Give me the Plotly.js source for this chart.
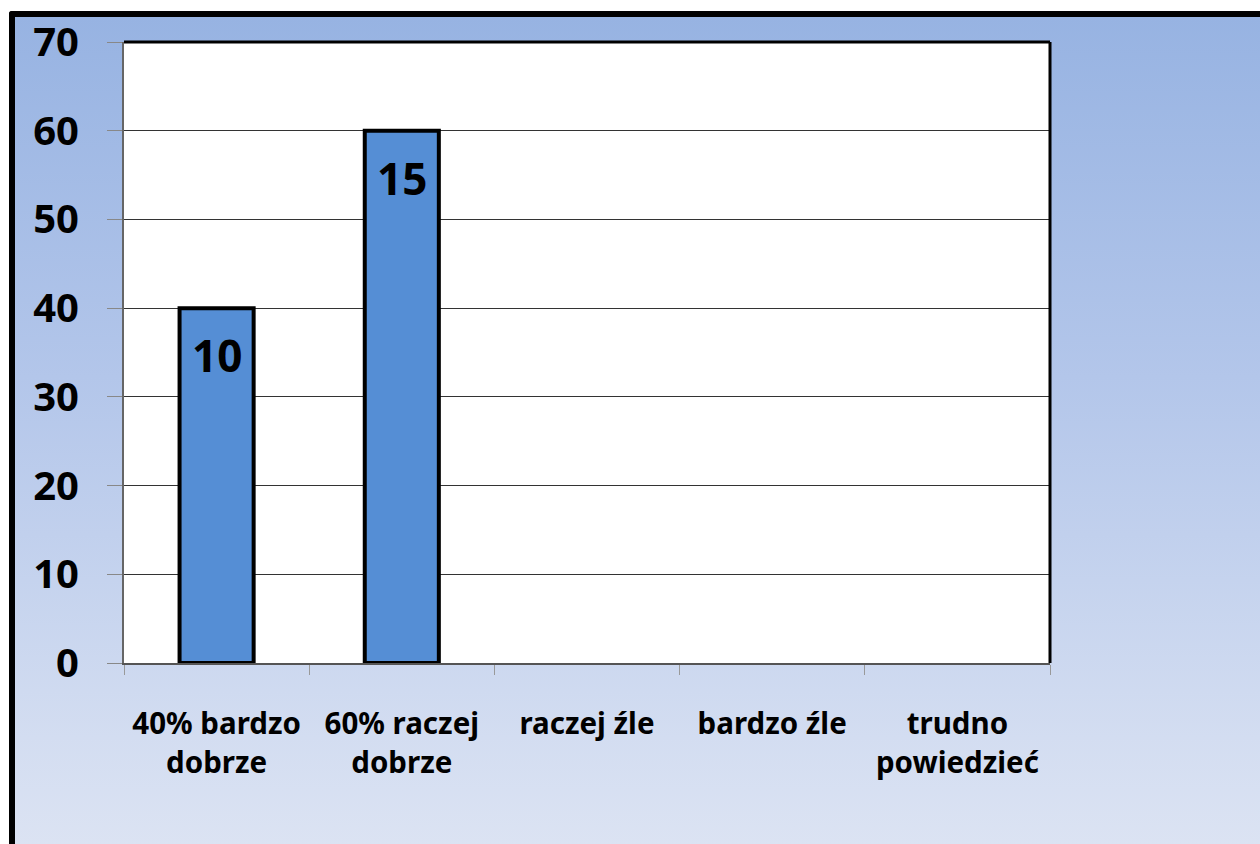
<!DOCTYPE html>
<html>
<head>
<meta charset="utf-8">
<script src="https://cdn.plot.ly/plotly-3.0.1.min.js"></script>
<style>
    html, body { margin: 0; padding: 0; background: #fff; }
    #wrap { position: relative; width: 1260px; height: 844px; overflow: hidden; }
    #frame {
        position: absolute; left: 9px; top: 11px; width: 1300px; height: 900px;
        border-left: 6px solid #000; border-top: 6px solid #000;
        border-top-left-radius: 3px;
        background: linear-gradient(180deg, #97b3e2 0%, #b3c6ea 40%, #d3ddf1 80%, #e1e7f4 100%);
    }
    #chart { position: absolute; left: 0; top: 0; width: 1260px; height: 844px; }
</style>
</head>
<body>
<div id="wrap">
    <div id="frame"></div>
    <div id="chart"></div>
</div>
<script>
    // 데이터
    const categories = ["40% bardzo<br>dobrze", "60% raczej<br>dobrze", "raczej źle", "bardzo źle", "trudno<br>powiedzieć"];
    const values = [40, 60, null, null, null];
    const barLabels = ["10", "15", "", "", ""];
    const yTicks = [0, 10, 20, 30, 40, 50, 60, 70];

    const fontFamily = "'Noto Sans', 'Open Sans', sans-serif";

    // 막대 안쪽 숫자 라벨
    const annotations = [];
    categories.forEach((c, i) => {
        if (values[i] == null || !barLabels[i]) return;
        annotations.push({
            x: c, y: values[i], xref: "x", yref: "y",
            text: barLabels[i], showarrow: false,
            yanchor: "middle", yshift: -47,
            font: {family: fontFamily, size: 44, color: "#000", weight: 700}
        });
    });

    Plotly.newPlot("chart", [{
        x: categories,
        y: values,
        type: "bar",
        width: 0.4,
        marker: {color: "#558ed5", line: {color: "#000", width: 4}},
        hoverinfo: "none"
    }], {
        width: 1260,
        height: 844,
        paper_bgcolor: "rgba(0,0,0,0)",
        plot_bgcolor: "#fff",
        margin: {l: 124, r: 210, t: 42, b: 181},
        showlegend: false,
        bargap: 0.6,
        font: {family: fontFamily, color: "#000"},
        xaxis: {
            type: "category",
            tickson: "boundaries",
            ticks: "outside", ticklen: 10, tickcolor: "#999", tickwidth: 1,
            showline: true, linecolor: "#555", linewidth: 2,
            showgrid: false,
            ticklabelstandoff: 34,
            tickfont: {family: fontFamily, size: 29.5, weight: 700}
        },
        yaxis: {
            range: [0, 70],
            tickvals: yTicks,
            ticktext: yTicks.map(String),
            ticks: "outside", ticklen: 15, tickcolor: "#888", tickwidth: 1,
            showline: true, linecolor: "#666", linewidth: 2,
            showgrid: true, gridcolor: "#333", gridwidth: 1,
            zeroline: false,
            ticklabelstandoff: 20,
            tickfont: {family: fontFamily, size: 40, weight: 700}
        },
        shapes: [
            {type: "line", xref: "paper", yref: "paper", x0: 0, x1: 1, y0: 1, y1: 1, line: {color: "#000", width: 3}},
            {type: "line", xref: "paper", yref: "paper", x0: 1, x1: 1, y0: 0, y1: 1, line: {color: "#000", width: 3}}
        ],
        annotations: annotations
    }, {displayModeBar: false, staticPlot: true});
</script>
</body>
</html>
